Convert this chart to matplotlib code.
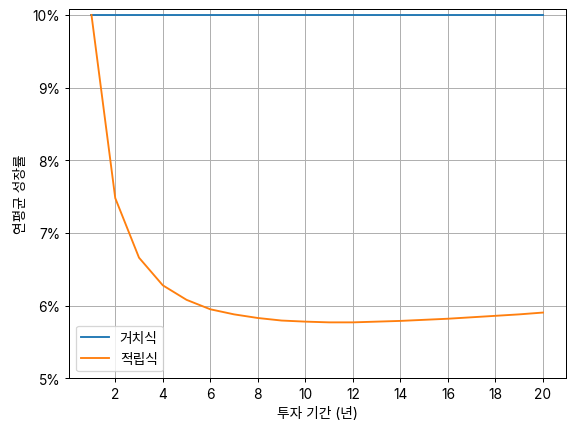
import matplotlib
matplotlib.use("Agg")
import matplotlib.pyplot as plt
from matplotlib.ticker import PercentFormatter

# Pretendard-like look: Inter for latin glyphs, Noto CJK for Hangul
plt.rcParams['font.family'] = ['Inter', 'Noto Sans CJK KR', 'DejaVu Sans']
plt.rcParams['font.size'] = 11
plt.rcParams['axes.unicode_minus'] = False

years = list(range(1, 21))
lump_sum = [0.10] * 20
installment = [0.1000, 0.0748, 0.0666, 0.0628, 0.0608, 0.0595, 0.0588, 0.0583,
               0.05795, 0.0578, 0.0577, 0.0577, 0.0578, 0.0579, 0.05805, 0.0582,
               0.0584, 0.0586, 0.0588, 0.05905]

fig, ax = plt.subplots(figsize=(6.38, 4.81), dpi=90)
ax.plot(years, lump_sum, label="거치식")
ax.plot(years, installment, label="적립식")
ax.set_xticks(range(2, 21, 2))
ax.set_ylim(0.05, 0.10087)
ax.yaxis.set_major_formatter(PercentFormatter(1.0, decimals=0))
ax.set_xlabel("투자 기간 (년)")
ax.set_ylabel("연평균 성장률")
ax.grid(True)
ax.legend(loc="lower left")
plt.subplots_adjust(left=0.12, right=0.985, top=0.978, bottom=0.124)
plt.savefig("out.png")
